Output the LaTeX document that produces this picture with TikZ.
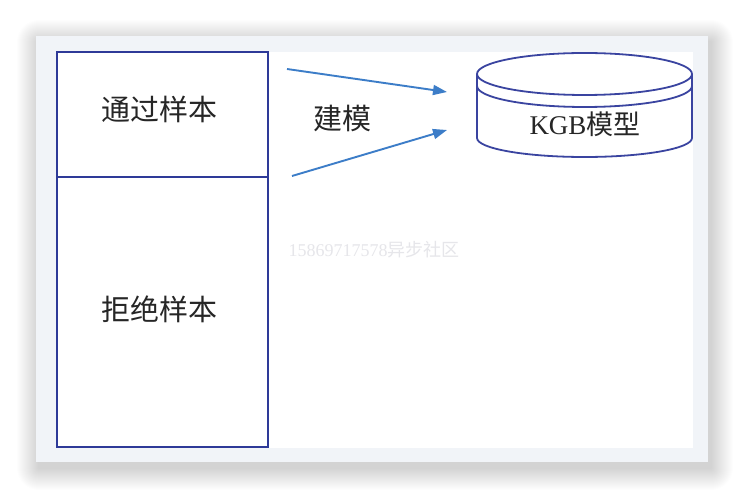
\documentclass[tikz,border=0pt]{standalone}
\usepackage{fontspec}
\setmainfont{Liberation Serif}
\newfontfamily\cjk{Noto Sans CJK SC}
\usetikzlibrary{arrows.meta}
\definecolor{framebg}{HTML}{F1F4F8}
\definecolor{boxblue}{HTML}{2E3A98}
\definecolor{cylblue}{HTML}{3A44A0}
\definecolor{arrowblue}{HTML}{3C7DC8}
\definecolor{wmgray}{HTML}{E6E6EA}
\tikzset{
  samplebox/.style={draw=boxblue, line width=2.2pt, minimum width=211pt, inner sep=0pt},
  cyl/.style={draw=cylblue, line width=1.8pt},
  buildarrow/.style={draw=arrowblue, line width=1.9pt, -{Triangle[length=14pt,width=10pt]}},
  plainlabel/.style={inner sep=0pt, text=black!85},
  shadowlayer/.style={fill=black, fill opacity=0.009},
}
\begin{document}
\begin{tikzpicture}[x=1pt,y=1pt]
\useasboundingbox (0,0) rectangle (744,498);
\fill[white] (0,0) rectangle (744,498);
% soft drop shadow
\foreach \i in {1,...,22}{
  \fill[shadowlayer, rounded corners=\i pt] ({36-\i+3},{36-\i-6}) rectangle ({708+\i+3},{462+\i-6});
}
\fill[framebg] (36,36) rectangle (708,462);
\fill[white] (57,50) rectangle (693,446);

% watermark
\node[inner sep=0pt, text=wmgray, font=\fontsize{18}{20}\selectfont] (wm) at (374,248) {15869717578{\cjk 异步社区}};

% sample boxes
\node[samplebox, minimum height=125pt] (pass) at (162.5,383.5) {};
\node[samplebox, minimum height=270pt] (reject) at (162.5,186) {};
\node[plainlabel, font=\cjk\fontsize{29}{32}\selectfont] (passlbl) at (159,389) {通过样本};
\node[plainlabel, font=\cjk\fontsize{29}{32}\selectfont] (rejectlbl) at (159,189) {拒绝样本};

% cylinder
\fill[white] (477,424) -- (477,360) arc[start angle=180, end angle=360, x radius=107.5, y radius=19] -- (692,424) -- cycle;
\draw[cyl] (477,424) -- (477,360) arc[start angle=180, end angle=360, x radius=107.5, y radius=19] -- (692,424);
\draw[cyl] (477,412) arc[start angle=180, end angle=360, x radius=107.5, y radius=21];
\draw[cyl, fill=white] (584.5,424) ellipse[x radius=107.5, y radius=21];
\node[plainlabel, font=\fontsize{27}{30}\selectfont] (model) at (585,374) {KGB{\cjk 模型}};

% arrows
\coordinate (a1s) at (287,429);
\coordinate (a1e) at (447,406);
\coordinate (a2s) at (292,322);
\coordinate (a2e) at (447,368);
\draw[buildarrow] (a1s) -- (a1e);
\draw[buildarrow] (a2s) -- (a2e);
\node[plainlabel, font=\cjk\fontsize{29}{32}\selectfont] (build) at (342,379.5) {建模};
\end{tikzpicture}
\end{document}
